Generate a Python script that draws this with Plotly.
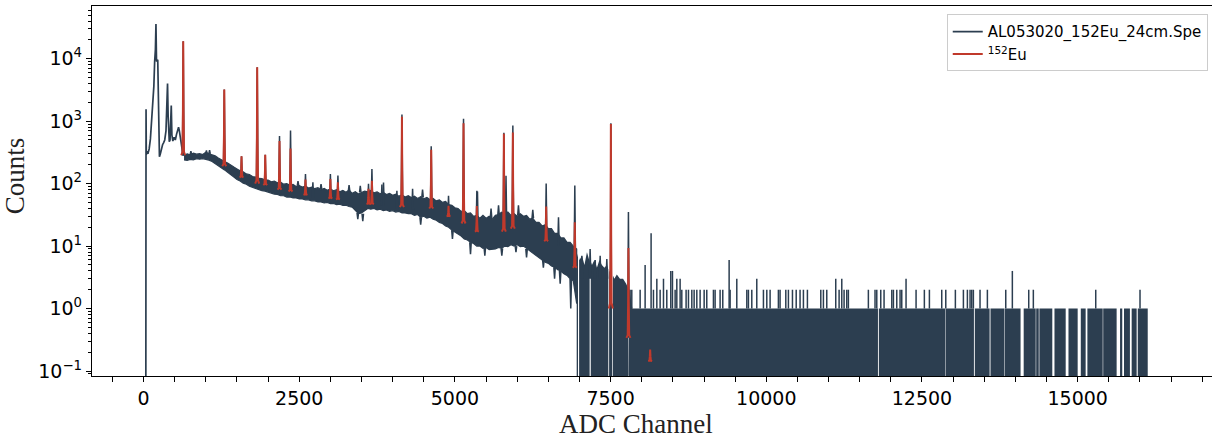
import numpy as np
import plotly.graph_objects as go

NAVY = "#2c3e50"
RED = "#c0392b"
CLIP = 0.01  # zero-count channels are drawn below the axis (clipped), like the reference

# ---------------- data ----------------
# low-energy part of the spectrum (channel, counts)
low_ch = [0, 36, 40, 44, 55, 70, 90, 110, 125, 140, 152, 165, 178, 190, 199, 208, 218, 228, 240,
          255, 270, 290, 305, 321, 340, 360, 375, 385, 395, 413, 425, 445, 455, 470, 490, 510,
          530, 550, 562, 575, 600, 616, 630, 650]
low_counts = [0, 0, 1550, 290, 330, 300, 360, 520, 900, 1900, 2400, 3600, 9000, 14000, 36000, 9000,
              9500, 9400, 1200, 270, 300, 380, 420, 450, 500, 700, 2000, 4000, 1200, 470, 500, 1780,
              600, 480, 550, 500, 620, 720, 800, 700, 450, 380, 300, 285]

# continuum band: upper / lower envelope of the noisy spectrum, sampled every 50 channels
band_ch = list(range(650, 6901, 50)) + [6955]
band_hi = [285, 300, 290, 308, 296, 302, 292, 318, 300, 290,
           278, 258, 245, 226, 214, 196, 184, 172, 160, 154,
           143, 140, 130, 127, 121, 120, 114, 114, 107, 110,
           103, 106, 98, 100, 94, 97, 90, 93, 88, 91,
           85, 88, 83, 86, 80, 84, 78, 82, 77, 80,
           74, 78, 73, 79, 70, 74, 68, 72, 76, 74,
           78, 71, 74, 69, 72, 67, 70, 65, 68, 63,
           66, 61, 64, 60, 63, 58, 62, 57, 60, 55,
           58, 53, 55, 50, 52, 46, 45, 41, 40, 36,
           37, 33, 34, 30, 31, 28, 31, 28, 30, 27,
           31, 32, 35, 33, 35, 31, 33, 30, 33, 30,
           31, 27, 28, 24, 24, 21, 22, 19, 19, 16,
           16, 13.5, 13.5, 11.5, 11.5, 10, 9]
band_lo = [240, 236, 245, 240, 250, 246, 252, 242, 238, 226,
           214, 198, 180, 166, 152, 138, 128, 116, 110, 102,
           98, 91, 88, 84, 80, 77, 76, 72, 71, 68,
           67, 64, 64, 61, 61, 59, 59, 57, 57, 55,
           55, 53, 53, 51, 51, 49, 50, 48, 48, 46,
           47, 45, 45, 43, 42, 38, 33, 34, 37, 40,
           39, 40, 38, 39, 37, 38, 36, 37, 35, 36,
           34, 34, 33, 33, 31, 32, 29, 30, 28, 29,
           27, 26, 24, 23, 21, 20, 18, 17, 15.5, 14.5,
           13, 12.5, 11.5, 11, 10, 10, 9.2, 9.5, 8.8, 9,
           9, 9.5, 9.2, 10, 9.8, 10.5, 10, 10.5, 9.8, 10,
           9, 8.5, 7.6, 7, 6.4, 6, 5.5, 5.3, 4.8, 4.6,
           4.2, 4, 3.6, 3.4, 3.0, 2.8, 1.2]

# high-channel part: counts mostly 0 / 1 (upper envelope)
tail_ch = [6955, 7000, 7040, 7080, 7120, 7160, 7200, 7240, 7280, 7320, 7360, 7400, 7440, 7480,
           7520, 7560, 7600, 7650, 7700, 7750, 7800, 7850, 16125]
tail_top = [8, 6, 7, 5, 8, 6, 5, 6, 4.5, 6, 5, 4.5, 5, 4, 3.5, 3, 3.5, 3, 3, 2.5, 2, 1, 1]
# channels where the spectrum never drops to zero (white gaps) and their widths
tail_gap_ch = [6985, 7172, 7470, 7530, 7790, 11800, 12882, 13341, 13593, 13822, 14108, 14330,
               14380, 14610, 14830, 15025, 15142, 15406, 15653, 15730, 15853, 15956]
tail_gap_w = [18, 18, 14, 14, 12, 14, 8, 14, 14, 8, 50, 8, 10, 35, 45, 50, 28, 8, 55, 28, 28, 18]
# isolated channels above one count
tail_spike_ch = [7813, 7840, 7974, 8054, 8150, 8188, 8242, 8295, 8349, 8402, 8466, 8493, 8536,
                 8563, 8616, 8643, 8712, 8750, 8804, 8841, 8884, 8937, 9002, 9044, 9151, 9178,
                 9258, 9301, 9403, 9419, 9526, 9687, 9713, 9767, 9847, 9954, 10008, 10061, 10194,
                 10221, 10313, 10355, 10420, 10480, 10542, 10596, 10660, 10875, 10917, 10971,
                 11115, 11169, 11212, 11249, 11292, 11318, 11639, 11746, 11774, 11838, 11891,
                 12015, 12041, 12095, 12148, 12175, 12244, 12405, 12538, 12619, 12817, 12882,
                 13036, 13165, 13229, 13272, 13299, 13325, 13432, 13550, 13845, 13951, 14214,
                 14288, 15290, 16001]
tail_spike_counts = [2, 2, 2, 5, 16, 2, 3, 2, 3, 2, 4, 4, 2, 3, 3, 2, 2, 2, 2, 2, 2, 2, 2, 2, 2,
                     2, 2, 2, 6, 2, 3, 2, 2, 2, 3, 2, 2, 2, 2, 2, 2, 2, 2, 2, 2, 2, 2, 2, 2, 2, 3,
                     2, 3, 2, 2, 2, 2, 2, 2, 2, 2, 2, 2, 2, 2, 2, 3, 2, 2, 2, 2, 2, 2, 2, 2, 2, 2,
                     2, 2, 2, 2, 4, 2, 2, 2, 2]

# peaks / single-channel excursions of the measured spectrum (channel, extreme counts, local level)
dark_peak_ch = [637, 1010, 1296, 1573, 1825, 1954, 2183, 2360, 2600, 2719, 3000, 3121, 3612,
                3667, 3827, 3853, 4068, 4149, 4320, 4619, 4897, 5138, 5352, 5362, 5786, 5820,
                5930, 6465, 6663, 6925, 7038, 7171, 7252, 7332, 7439, 7504, 7786,
                760, 1060, 2480, 2850, 3300, 3480, 4480, 5580, 5700, 6020, 6250,
                3440, 3520, 4450, 4960, 5250, 5480, 5753, 6150, 6420, 6690, 6860, 6600, 5980]
dark_peak_top = [19000, 340, 3200, 275, 7300, 290, 580, 710, 142, 105, 142, 135, 99, 171, 97,
                 104, 77, 1280, 83, 395, 64, 1090, 77, 75, 650, 134, 850, 100, 29, 93, 7, 9, 6,
                 7, 6.2, 930, 35,
                 330, 345, 110, 98, 95, 92, 80, 40, 45, 45, 38,
                 27, 25, 22, 13, 7.4, 7, 7, 6.6, 4.5, 2.5, 1.0, 3, 8]
dark_peak_base = [280, 290, 190, 126, 100, 95, 80, 75, 66, 60, 58, 56, 50, 47, 44, 44, 40, 42,
                  38, 40, 30, 23, 17, 17, 17, 20, 19, 12, 10, 4.5, 3, 3, 3, 3, 3, CLIP, 0.34,
                  290, 300, 92, 82, 76, 72, 60, 28, 31, 31, 28,
                  34, 33, 29, 18, 11.5, 9.5, 9.2, 9, 6, 4, 3, 4.6, 10]

# fitted 152Eu peaks (channel, top counts, background)
red_peak_ch = [637, 1296, 1573, 1825, 1954, 2183, 2360, 2600, 3000, 3121, 3612, 3667, 4149,
               4619, 4897, 5138, 5352, 5786, 5930, 6465, 6925, 7504, 7786, 8135]
red_peak_top = [19000, 3200, 275, 7300, 290, 480, 365, 116, 118, 105, 83, 111, 1180, 350, 44,
                930, 44, 630, 660, 43, 24, 900, 9.3, 0.22]
red_peak_base = [285, 190, 126, 100, 95, 80, 75, 66, 58, 56, 47, 47, 42, 40, 30, 23, 17, 17, 19,
                 12, 4.5, 1.0, 0.34, 0.145]

x_ticks = [0, 2500, 5000, 7500, 10000, 12500, 15000]
y_tick_exp = [-1, 0, 1, 2, 3, 4]

# ---------------- build traces ----------------
fig = go.Figure()

# tail block (0/1 counts) as filled region down to the clipped bottom
tail_log = np.log10(tail_top)
tx, ty = [tail_ch[0]], [CLIP]
events = sorted([(c, "env", v) for c, v in zip(tail_ch, tail_top)] +
                [(g, "gap", w) for g, w in zip(tail_gap_ch, tail_gap_w)])
for c, kind, v in events:
    if kind == "env":
        tx.append(c); ty.append(v)
    else:
        top = 10 ** np.interp(c, tail_ch, tail_log)
        a, b = c - v / 2, c + v / 2
        tx += [a, a, b, b]; ty += [top, CLIP, CLIP, top]
tx.append(tail_ch[-1]); ty.append(CLIP)
fig.add_trace(go.Scatter(x=tx, y=ty, mode="lines", fill="toself", fillcolor=NAVY,
                         line=dict(width=0, color=NAVY), showlegend=False, hoverinfo="skip",
                         legendgroup="spe"))

# continuum band
fig.add_trace(go.Scatter(x=band_ch + band_ch[::-1], y=band_hi + band_lo[::-1], mode="lines",
                         fill="toself", fillcolor=NAVY, line=dict(width=1.2, color=NAVY),
                         showlegend=False, hoverinfo="skip", legendgroup="spe"))

# spikes above the tail and peaks of the measured spectrum
sx, sy = [], []
for c, v in zip(tail_spike_ch, tail_spike_counts):
    sx += [c, c, None]; sy += [1, v, None]
for c, t, b in zip(dark_peak_ch, dark_peak_top, dark_peak_base):
    sx += [c - 12, c, c + 12, None]; sy += [b, t, b, None]
fig.add_trace(go.Scatter(x=sx, y=sy, mode="lines", line=dict(width=1.5, color=NAVY),
                         showlegend=False, hoverinfo="skip", legendgroup="spe"))

# low channel part (legend entry for the spectrum)
fig.add_trace(go.Scatter(x=low_ch, y=[max(v, CLIP) for v in low_counts], mode="lines",
                         line=dict(width=1.7, color=NAVY), name="AL053020_152Eu_24cm.Spe",
                         legendgroup="spe"))

# fitted peaks
prof_dx = [-32, -12, -5, 0, 5, 12, 32]
prof_f = [0, 0.03, 0.4, 1, 0.4, 0.03, 0]
rx, ry = [], []
for c, t, b in zip(red_peak_ch, red_peak_top, red_peak_base):
    lb, lt = np.log10(b), np.log10(t)
    for dx, f in zip(prof_dx, prof_f):
        rx.append(c + dx); ry.append(10 ** (lb + f * (lt - lb)))
    rx.append(None); ry.append(None)
fig.add_trace(go.Scatter(x=rx, y=ry, mode="lines", line=dict(width=2, color=RED),
                         name="<sup>152</sup>Eu", hoverinfo="skip"))

# ---------------- layout ----------------
minor_y = [m * 10.0 ** e for e in range(-2, 5) for m in range(2, 10)]
minor_y = [v for v in minor_y if -1.08 < np.log10(v) < 4.844]

fig.update_layout(
    width=1212, height=438,
    margin=dict(l=92, r=0, t=6, b=62),
    paper_bgcolor="white", plot_bgcolor="white",
    font=dict(family="DejaVu Sans", size=19, color="black"),
    showlegend=True,
    legend=dict(x=0.9962, xanchor="right", y=0.9776, yanchor="top",
                bgcolor="rgba(255,255,255,0.85)", bordercolor="#cccccc", borderwidth=1,
                font=dict(family="DejaVu Sans", size=15, color="black"),
                tracegroupgap=0, itemwidth=30),
    xaxis=dict(range=[-828, 17157], showgrid=False, zeroline=False, showline=True,
               linecolor="black", linewidth=1.3, mirror=True, ticks="outside", ticklen=5,
               tickwidth=1.2, tickcolor="black", tickvals=x_ticks,
               ticktext=[str(v) for v in x_ticks],
               tickfont=dict(family="DejaVu Sans", size=19),
               minor=dict(dtick=500, tick0=0, ticks="outside", ticklen=5, tickwidth=1.2,
                          tickcolor="black", showgrid=False)),
    yaxis=dict(type="log", range=[-1.08, 4.844], showgrid=False, zeroline=False, showline=True,
               linecolor="black", linewidth=1.3, mirror=False, ticks="outside", ticklen=5,
               tickwidth=1.2, tickcolor="black",
               tickvals=[10.0 ** e for e in y_tick_exp],
               ticktext=["10<sup>%s</sup>" % (str(e).replace("-", "\u2212")) for e in y_tick_exp],
               tickfont=dict(family="DejaVu Sans", size=19),
               minor=dict(tickvals=minor_y, ticks="outside", ticklen=3, tickwidth=1,
                          tickcolor="black", showgrid=False)),
    annotations=[
        dict(text="ADC Channel", xref="paper", yref="paper", x=(636 - 92) / 1120,
             y=(375.7 - 424) / 370, xanchor="center", yanchor="middle", showarrow=False,
             font=dict(family="Liberation Serif", size=27, color="#222222")),
        dict(text="Counts", xref="paper", yref="paper", x=(15 - 92) / 1120,
             y=(375.7 - 176) / 370, xanchor="center", yanchor="middle", showarrow=False,
             textangle=-90, font=dict(family="Liberation Serif", size=27, color="#222222")),
    ],
)

fig.write_html("out.html", config={"displayModeBar": False},
               post_script="document.body.style.margin='0px';document.body.style.padding='0px';"
                           "document.body.style.overflow='hidden';")
